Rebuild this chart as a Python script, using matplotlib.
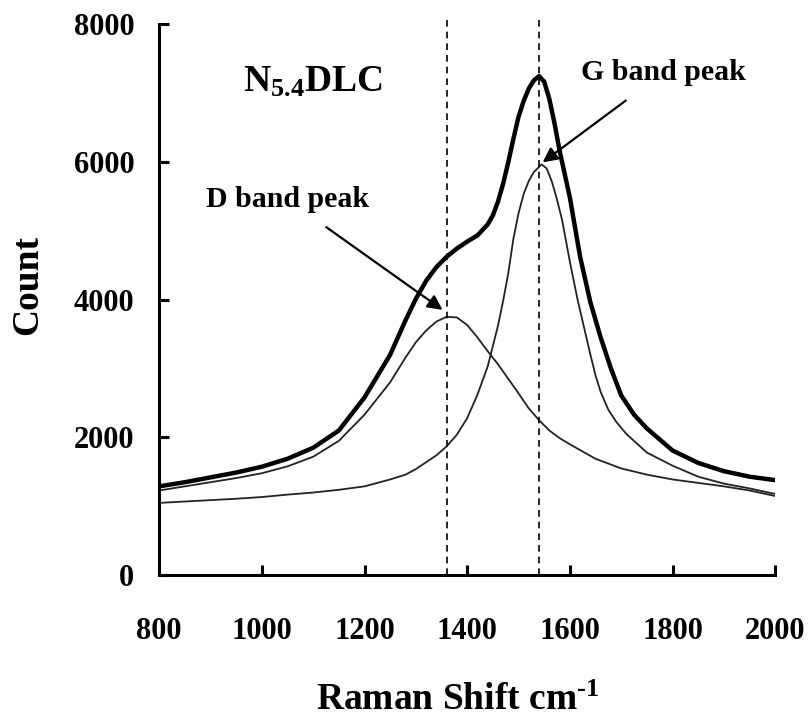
import numpy as np
import matplotlib
matplotlib.use('Agg')
import matplotlib.pyplot as plt

plt.rcParams['font.family'] = ['Liberation Serif', 'DejaVu Serif']
plt.rcParams['font.weight'] = 'bold'
plt.rcParams['mathtext.fontset'] = 'custom'
plt.rcParams['mathtext.rm'] = 'Liberation Serif:bold'
plt.rcParams['mathtext.it'] = 'Liberation Serif:bold'
plt.rcParams['mathtext.bf'] = 'Liberation Serif:bold'

# measured spectrum (thick line)
total_x = [800, 850, 900, 950, 1000, 1050, 1100, 1150, 1200, 1250, 1280, 1300, 1320,
           1340, 1360, 1380, 1400, 1420, 1440, 1450, 1460, 1470, 1480, 1490, 1500, 1510,
           1520, 1530, 1540, 1550, 1560, 1570, 1580, 1600, 1620, 1640, 1660, 1680, 1700,
           1725, 1750, 1800, 1850, 1900, 1950, 2000]
total_y = [1290, 1350, 1420, 1490, 1575, 1690, 1850, 2100, 2580, 3200, 3700, 4010, 4270,
           4470, 4620, 4740, 4840, 4930, 5090, 5220, 5420, 5680, 5990, 6330, 6650, 6880,
           7060, 7180, 7240, 7160, 6910, 6560, 6160, 5480, 4620, 3960, 3450, 3000, 2610,
           2330, 2130, 1810, 1630, 1510, 1430, 1380]

# fitted D band
d_x = [800, 850, 900, 950, 1000, 1050, 1100, 1150, 1200, 1250, 1280, 1300, 1320, 1340,
       1360, 1380, 1400, 1420, 1440, 1460, 1480, 1500, 1520, 1540, 1560, 1580, 1600,
       1650, 1700, 1750, 1800, 1850, 1900, 1950, 2000]
d_y = [1230, 1290, 1350, 1410, 1480, 1580, 1720, 1950, 2330, 2800, 3160, 3380, 3550, 3680,
       3750, 3740, 3630, 3450, 3250, 3060, 2850, 2640, 2420, 2250, 2100, 1990, 1900,
       1690, 1550, 1460, 1390, 1340, 1290, 1230, 1150]

# fitted G band
g_x = [800, 850, 900, 950, 1000, 1050, 1100, 1150, 1200, 1250, 1280, 1300, 1320, 1340,
       1360, 1380, 1400, 1420, 1440, 1460, 1470, 1480, 1490, 1500, 1510, 1520, 1530,
       1545, 1555, 1565, 1575, 1585, 1600, 1615, 1630, 1640, 1650, 1660, 1675, 1690,
       1710, 1750, 1800, 1850, 1900, 1950, 2000]
g_y = [1050, 1070, 1090, 1110, 1135, 1170, 1200, 1240, 1290, 1390, 1460, 1540, 1640, 1740,
       1870, 2040, 2280, 2620, 3030, 3620, 3980, 4380, 4880, 5250, 5530, 5720, 5850,
       5960, 5900, 5710, 5450, 5150, 4550, 4000, 3520, 3200, 2900, 2660, 2400, 2230,
       2050, 1780, 1590, 1430, 1330, 1260, 1180]

peak_lines = [1360, 1540]

fig = plt.figure(figsize=(8.08, 7.2), dpi=100)
ax = fig.add_axes([0.197, 0.201, 0.7624, 0.766])

ax.plot(d_x, d_y, color='#222222', lw=1.3)
ax.plot(g_x, g_y, color='#222222', lw=1.3)
ax.plot(total_x, total_y, color='k', lw=3.2)

for xv in peak_lines:
    ax.plot([xv, xv], [0, 8080], color='k', lw=1.2, dashes=(4, 3), clip_on=False)

ax.text(1100, 7150, r'N$_{5.4}$DLC', fontsize=27, fontweight='bold', ha='center', va='center')

ax.annotate('D band peak', xy=(1352, 3850), xytext=(1050, 5450),
            fontsize=21.5, fontweight='bold', ha='center', va='center',
            arrowprops=dict(arrowstyle='-|>', color='k', lw=1.6, mutation_scale=22,
                            shrinkA=14, shrinkB=0))
ax.annotate('G band peak', xy=(1547, 5990), xytext=(1782, 7290),
            fontsize=21.5, fontweight='bold', ha='center', va='center',
            arrowprops=dict(arrowstyle='-|>', color='k', lw=1.6, mutation_scale=22,
                            shrinkA=14, shrinkB=0))

ax.set_xlim(800, 2000)
ax.set_ylim(0, 8000)
ax.set_xticks(np.arange(800, 2001, 200))
ax.set_yticks(np.arange(0, 8001, 2000))

for side in ['top', 'right']:
    ax.spines[side].set_visible(False)
for side in ['left', 'bottom']:
    ax.spines[side].set_linewidth(2.2)

ax.tick_params(axis='both', direction='in', length=7, width=2.2, labelsize=22)
ax.tick_params(axis='x', pad=30)
ax.tick_params(axis='y', pad=18)
for lab in ax.get_xticklabels() + ax.get_yticklabels():
    lab.set_fontweight('bold')

ax.set_xlabel(r'Raman Shift cm$^{\text{-1}}$', fontsize=27, fontweight='bold')
ax.xaxis.set_label_coords(0.484, -0.245)
ax.xaxis.label.set_verticalalignment('baseline')
ax.set_ylabel('Count', fontsize=27, fontweight='bold')
ax.yaxis.set_label_coords(-0.185, 0.526)

plt.savefig('out.png', dpi=100)
